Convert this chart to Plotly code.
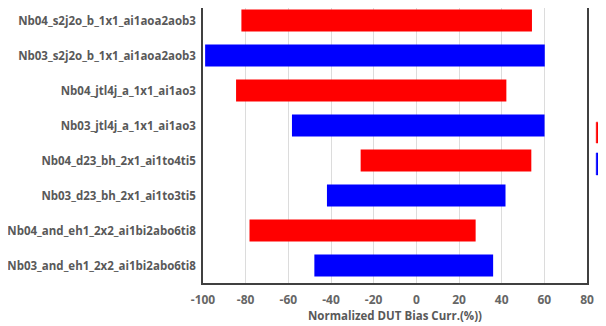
import plotly.graph_objects as go

labels = [
    "Nb04_s2j2o_b_1x1_ai1aoa2aob3",
    "Nb03_s2j2o_b_1x1_ai1aoa2aob3",
    "Nb04_jtl4j_a_1x1_ai1ao3",
    "Nb03_jtl4j_a_1x1_ai1ao3",
    "Nb04_d23_bh_2x1_ai1to4ti5",
    "Nb03_d23_bh_2x1_ai1to3ti5",
    "Nb04_and_eh1_2x2_ai1bi2abo6ti8",
    "Nb03_and_eh1_2x2_ai1bi2abo6ti8",
]
mins = [-82, -99, -84.5, -58.3, -26.1, -41.9, -78.2, -47.8]
maxs = [54.2, 60.2, 42.2, 60.1, 53.9, 41.8, 27.8, 36.0]
series = ["Nb04", "Nb03", "Nb04", "Nb03", "Nb04", "Nb03", "Nb04", "Nb03"]
colors = {"Nb04": "#FF0000", "Nb03": "#0000FF"}
x_ticks = [-100, -80, -60, -40, -20, 0, 20, 40, 60, 80]
x_tick_text = ["-100", "-80", "-60", "-40", "-20", "0", "20", "40", "60", "80"]

fig = go.Figure()
for s in ["Nb04", "Nb03"]:
    idx = [i for i, v in enumerate(series) if v == s]
    fig.add_trace(go.Bar(
        y=[labels[i] for i in idx],
        base=[mins[i] for i in idx],
        x=[maxs[i] - mins[i] for i in idx],
        orientation="h",
        name=s,
        marker=dict(color=colors[s], line=dict(width=0)),
        showlegend=False,
    ))

font_fam = "Open Sans, Segoe UI, Arial, sans-serif"
fig.update_layout(
    width=598, height=318,
    margin=dict(l=195, r=19, t=0, b=43),
    paper_bgcolor="white", plot_bgcolor="white",
    barmode="overlay", bargap=0.37,
    font=dict(family=font_fam, size=12, color="#595959"),
    xaxis=dict(
        range=[-100, 80], tickmode="array", tickvals=x_ticks, ticktext=x_tick_text,
        showgrid=True, gridcolor="#dcdcdc", gridwidth=1, automargin=False,
        zeroline=False, showline=True, linecolor="#404040", linewidth=1.5, mirror=True,
        ticklabelstandoff=5,
        tickfont=dict(family=font_fam, size=12, color="#666666", weight="bold"),
        title=dict(text="Normalized DUT Bias Curr.(%))", standoff=0,
                   font=dict(family=font_fam, size=11.5, color="#595959", weight="bold")),
    ),
    yaxis=dict(
        categoryorder="array", categoryarray=labels, range=[7.5, -0.357],
        showgrid=False, showline=True, linecolor="#404040", linewidth=1.5, mirror=True,
        ticklabelstandoff=3, automargin=False,
        tickfont=dict(family=font_fam, size=11.5, color="#595959", weight="bold"),
    ),
    shapes=[
        dict(type="rect", xref="paper", yref="paper", x0=1.024, x1=1.05, y0=0.509, y1=0.585,
             fillcolor="#FF0000", line=dict(width=0.5, color="#FF0000"), layer="above"),
        dict(type="rect", xref="paper", yref="paper", x0=1.024, x1=1.05, y0=0.393, y1=0.473,
             fillcolor="#0000FF", line=dict(width=0.5, color="#0000FF"), layer="above"),
    ],
)

fig.write_html("out.html")
